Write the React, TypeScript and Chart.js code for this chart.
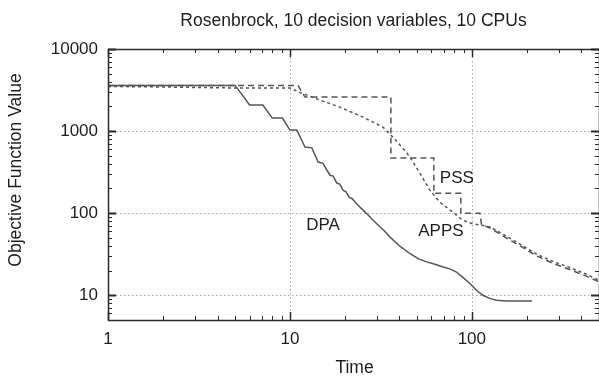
import React, { useEffect, useRef } from "react";
import { Chart, registerables } from "chart.js";

Chart.register(...registerables);

const chartTitle = "Rosenbrock, 10 decision variables, 10 CPUs";
const xAxisTitle = "Time";
const yAxisTitle = "Objective Function Value";

const xTickValues = [1, 10, 100];
const yTickValues = [10, 100, 1000, 10000];

const seriesNames = ["DPA", "PSS", "APPS"];

const dpaTime = [1, 5.0, 6.0, 7.1, 8.0, 9.1, 10.0, 10.9, 12.1, 13.2, 14.3, 15.2, 16.6, 17.3, 18.1, 18.8, 19.6, 20.3, 21.2, 22.0, 22.8, 24.5, 26.4, 28.4, 30.6, 33, 35.4, 40.2, 45.6, 50.7, 56.4, 62.6, 69.5, 75.7, 82.4, 89.6, 97.5, 106, 115, 126, 137, 155, 214];
const dpaValue = [3600, 3600, 2080, 2080, 1440, 1440, 1030, 1030, 640, 625, 420, 405, 290, 283, 232, 226, 190, 183, 156, 150, 137, 116, 99, 84, 71.4, 61, 51.5, 39.6, 32.3, 28, 25.5, 23.9, 22.1, 21.0, 19.2, 16.4, 13.9, 11.5, 10, 9.1, 8.7, 8.5, 8.5];

const pssTime = [1, 11.07, 12.1, 35.9, 35.9, 61.8, 61.8, 87.0, 87.0, 110.7, 113, 126, 148, 184, 228, 279, 345, 428, 500];
const pssValue = [3600, 3600, 2600, 2600, 469, 469, 175, 175, 100, 100, 73, 66, 53, 40, 30, 24.5, 20.6, 17, 14.6];

const appsTime = [1, 2, 3, 5, 10, 11.6, 14.6, 18.8, 25.2, 32.4, 36.8, 44, 46.8, 51.8, 58.8, 66.7, 78.6, 89.3, 100, 126, 148, 184, 228, 279, 345, 428, 500];
const appsValue = [3500, 3450, 3400, 3350, 3340, 2900, 2390, 1960, 1480, 1120, 845, 540, 443, 307, 191, 136, 103, 82, 75, 68, 55.5, 42, 31.5, 25.8, 21.8, 18, 15.2];

// annotation anchors (data coordinates) for the series names
const labelTime = [15.2, 82.7, 67.6];
const labelValue = [71.5, 267, 60.3];

const FONT = '"Liberation Sans", Arial, Helvetica, sans-serif';
const TEXT = "#1e1e1e";
const LINE = "#555555";

function minorValues(min: number, max: number): number[] {
  const out: number[] = [];
  for (let d = Math.pow(10, Math.floor(Math.log10(min))); d <= max; d *= 10) {
    for (let m = 1; m <= 9; m++) {
      const v = m * d;
      if (v >= min - 1e-9 && v <= max + 1e-9) out.push(v);
    }
  }
  return out;
}

const framePlugin = {
  id: "gnuFrame",
  beforeDatasetsDraw(chart: any) {
    const { ctx, chartArea: a } = chart;
    const x = chart.scales.x;
    const y = chart.scales.y;
    ctx.save();
    ctx.strokeStyle = "#a8a8a8";
    ctx.lineWidth = 1;
    ctx.setLineDash([1.5, 2.5]);
    for (const v of xTickValues) {
      const px = Math.round(x.getPixelForValue(v)) + 0.5;
      if (px <= a.left + 2 || px >= a.right - 2) continue;
      ctx.beginPath();
      ctx.moveTo(px, a.top);
      ctx.lineTo(px, a.bottom);
      ctx.stroke();
    }
    for (const v of yTickValues) {
      const py = Math.round(y.getPixelForValue(v)) + 0.5;
      if (py <= a.top + 2 || py >= a.bottom - 2) continue;
      ctx.beginPath();
      ctx.moveTo(a.left, py);
      ctx.lineTo(a.right, py);
      ctx.stroke();
    }
    ctx.restore();
  },
  afterDatasetsDraw(chart: any) {
    const { ctx, chartArea: a } = chart;
    const x = chart.scales.x;
    const y = chart.scales.y;
    ctx.save();
    ctx.setLineDash([]);
    ctx.strokeStyle = "#2a2a2a";
    const xMin = minorValues(x.min, x.max);
    for (const v of xMin) {
      const major = xTickValues.includes(v);
      const len = major ? 8 : 4;
      const px = Math.round(x.getPixelForValue(v)) + 0.5;
      ctx.lineWidth = major ? 1.5 : 1;
      ctx.beginPath();
      ctx.moveTo(px, a.bottom);
      ctx.lineTo(px, a.bottom - len);
      ctx.moveTo(px, a.top);
      ctx.lineTo(px, a.top + len);
      ctx.stroke();
    }
    const yMin = minorValues(y.min, y.max);
    for (const v of yMin) {
      const major = yTickValues.includes(v);
      const len = major ? 8 : 4;
      const py = Math.round(y.getPixelForValue(v)) + 0.5;
      ctx.lineWidth = major ? 2 : 1;
      ctx.beginPath();
      ctx.moveTo(a.left, py);
      ctx.lineTo(a.left + len, py);
      ctx.moveTo(a.right, py);
      ctx.lineTo(a.right - len, py);
      ctx.stroke();
    }
    ctx.lineWidth = 1.5;
    ctx.strokeRect(Math.round(a.left) + 0.5, Math.round(a.top) + 0.5, Math.round(a.right - a.left), Math.round(a.bottom - a.top));
    ctx.fillStyle = TEXT;
    ctx.font = `17px ${FONT}`;
    ctx.textAlign = "center";
    ctx.textBaseline = "middle";
    seriesNames.forEach((name, i) => {
      ctx.fillText(name, x.getPixelForValue(labelTime[i]), y.getPixelForValue(labelValue[i]));
    });
    ctx.restore();
  },
  afterDraw(chart: any) {
    const { ctx, chartArea: a } = chart;
    ctx.save();
    ctx.fillStyle = TEXT;
    ctx.font = `17.5px ${FONT}`;
    ctx.textAlign = "center";
    ctx.textBaseline = "alphabetic";
    const cx = (a.left + a.right) / 2;
    ctx.fillText(chartTitle, cx, 25.5);
    ctx.fillText(xAxisTitle, cx + 1, 372.5);
    ctx.translate(21, 170);
    ctx.rotate(-Math.PI / 2);
    ctx.fillText(yAxisTitle, 0, 0);
    ctx.restore();
  },
};

export default function App() {
  const canvasRef = useRef<HTMLCanvasElement | null>(null);

  useEffect(() => {
    const canvas = canvasRef.current;
    if (!canvas) return;
    const toPoints = (t: number[], v: number[]) => t.map((tt, i) => ({ x: tt, y: v[i] }));
    const chart = new Chart(canvas, {
      type: "line",
      data: {
        datasets: [
          {
            label: seriesNames[0],
            data: toPoints(dpaTime, dpaValue),
            borderColor: LINE,
            borderWidth: 1.5,
            pointRadius: 0,
            tension: 0,
          },
          {
            label: seriesNames[1],
            data: toPoints(pssTime, pssValue),
            borderColor: LINE,
            borderWidth: 1.5,
            borderDash: [6, 4],
            pointRadius: 0,
            tension: 0,
          },
          {
            label: seriesNames[2],
            data: toPoints(appsTime, appsValue),
            borderColor: LINE,
            borderWidth: 1.5,
            borderDash: [3, 3],
            pointRadius: 0,
            tension: 0,
          },
        ],
      },
      options: {
        animation: false,
        responsive: false,
        maintainAspectRatio: false,
        events: [],
        layout: { padding: { top: 49, right: 0, left: 0, bottom: 0 } },
        plugins: {
          legend: { display: false },
          title: { display: false },
          tooltip: { enabled: false },
        },
        scales: {
          x: {
            type: "logarithmic",
            min: 1,
            max: 500,
            border: { display: false },
            grid: { display: false, drawTicks: false },
            afterBuildTicks: (scale: any) => {
              scale.ticks = xTickValues.map((v) => ({ value: v }));
            },
            afterFit: (scale: any) => {
              scale.height = 59;
            },
            ticks: {
              autoSkip: false,
              maxRotation: 0,
              padding: 9,
              color: TEXT,
              font: { family: FONT, size: 17 },
              callback: (v: any) => String(v),
            },
          },
          y: {
            type: "logarithmic",
            min: 5,
            max: 10000,
            border: { display: false },
            grid: { display: false, drawTicks: false },
            afterBuildTicks: (scale: any) => {
              scale.ticks = yTickValues.map((v) => ({ value: v }));
            },
            afterFit: (scale: any) => {
              scale.width = 108;
            },
            ticks: {
              autoSkip: false,
              padding: 10,
              color: TEXT,
              font: { family: FONT, size: 17 },
              callback: (v: any) => String(v),
            },
          },
        },
      },
      plugins: [framePlugin],
    });
    return () => chart.destroy();
  }, []);

  return (
    <div style={{ position: "fixed", left: 0, top: 0, width: 599, height: 379, background: "#fff" }}>
      <canvas ref={canvasRef} width={599} height={379} style={{ width: 599, height: 379, display: "block" }} />
    </div>
  );
}
